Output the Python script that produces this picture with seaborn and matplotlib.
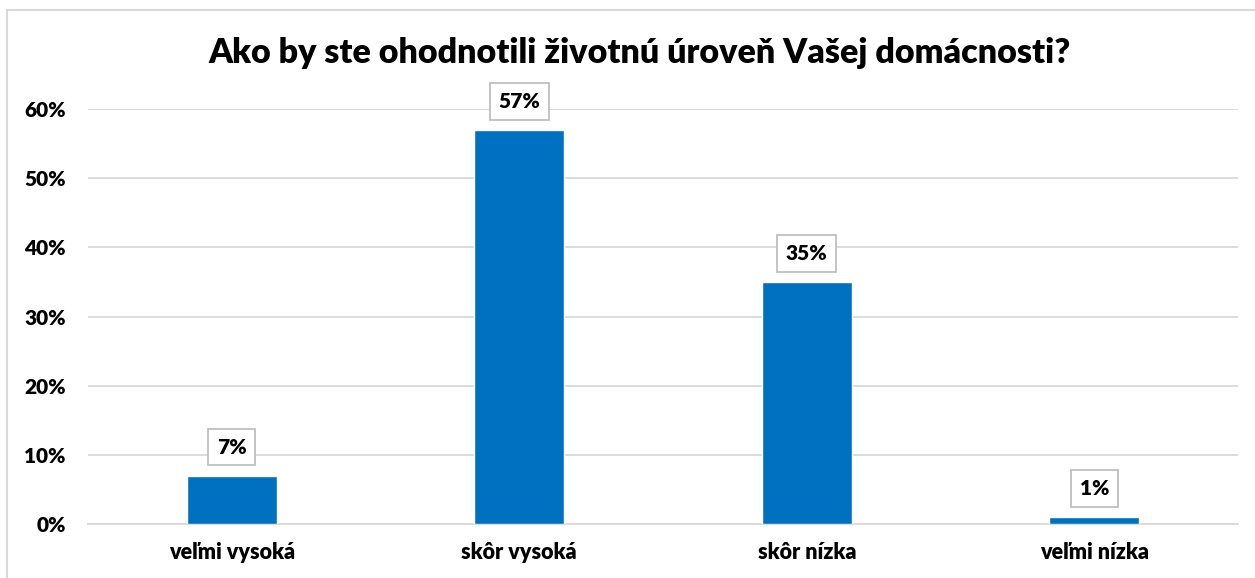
import matplotlib
matplotlib.use('Agg')
import matplotlib.pyplot as plt
import seaborn as sns
import pandas as pd
from matplotlib.patches import Rectangle

# data
categories = ['veľmi vysoká', 'skôr vysoká', 'skôr nízka', 'veľmi nízka']
shares = [7, 57, 35, 1]
tick_vals = [0, 10, 20, 30, 40, 50, 60]
title = 'Ako by ste ohodnotili životnú úroveň Vašej domácnosti?'

df = pd.DataFrame({'level': categories, 'share': shares})

sns.set_style('white')
plt.rcParams['font.family'] = ['Lato', 'DejaVu Sans']
plt.rcParams['text.color'] = 'black'
plt.rcParams['xtick.color'] = 'black'
plt.rcParams['ytick.color'] = 'black'

fig = plt.figure(figsize=(12.55, 5.78), dpi=100)
ax = fig.add_axes([0.0701, 0.0934, 0.9164, 0.718])

sns.barplot(data=df, x='level', y='share', color='#0070C0', width=0.313,
            saturation=1, ax=ax, zorder=3)

ax.set_ylim(0, 60)
ax.set_xlim(-0.5, 3.5)
ax.set_yticks(tick_vals)
ax.set_yticklabels([f'{v}%' for v in tick_vals], fontsize=15, fontweight='heavy')
ax.set_xticks(range(len(categories)))
ax.set_xticklabels(categories, fontsize=15.5, fontweight='heavy')
ax.tick_params(axis='both', length=0)
ax.tick_params(axis='y', pad=16)
ax.tick_params(axis='x', pad=13)
ax.set_xlabel('')
ax.set_ylabel('')
ax.yaxis.grid(True, color='#D9D9D9', linewidth=1.3, zorder=0)
for s in ['top', 'right', 'left']:
    ax.spines[s].set_visible(False)
ax.spines['bottom'].set_color('#D9D9D9')
ax.spines['bottom'].set_linewidth(1.3)

for i, v in enumerate(shares):
    ax.annotate(f'{v}%', (i, v), xytext=(0, 20.5), textcoords='offset points',
                ha='center', va='center', fontsize=15, fontweight='heavy',
                color='black', annotation_clip=False,
                bbox=dict(boxstyle='square,pad=0.42', fc='white', ec='#BFBFBF', lw=1.3))

fig.text(640 / 1255, 1 - 53 / 578, title, ha='center', va='center',
         fontsize=24.5, fontweight='heavy', color='black')

fig.patches.append(Rectangle((7 / 1255, -0.01), 1.1, 1 - 10 / 578 + 0.01,
                             transform=fig.transFigure, fill=False,
                             ec='#D9D9D9', lw=1.5))

fig.savefig('out.png', dpi=100)
